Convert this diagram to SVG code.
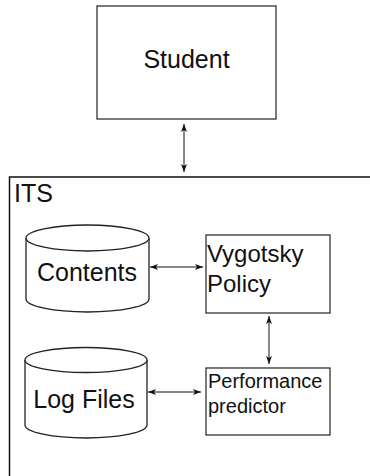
<svg xmlns="http://www.w3.org/2000/svg" width="370" height="476" viewBox="0 0 370 476">
<style>
.box{fill:#fff;stroke:#222;stroke-width:1.2}
.cyl{fill:#fff;stroke:#222;stroke-width:1.3}
.t{font-family:"Liberation Sans",Arial,sans-serif;fill:#111}
.c{stroke:#111;stroke-width:1;fill:none}
</style>
<defs>
<marker id="ah" viewBox="0 0 8 6" refX="8" refY="3" markerWidth="8" markerHeight="6" orient="auto-start-reverse" markerUnits="userSpaceOnUse">
<path d="M0,0 L8,3 L0,6 L2,3 z" fill="#111"/>
</marker>
</defs>
<rect width="370" height="476" fill="#fff"/>
<g id="student">
<rect class="box" x="97" y="6" width="179" height="113"/>
<text class="t" x="186.5" y="68" font-size="25" text-anchor="middle">Student</text>
</g>
<g id="its">
<path d="M9.5,476 V177 H370" fill="none" stroke="#111" stroke-width="1.5"/>
<text class="t" x="14" y="202" font-size="25">ITS</text>
</g>
<g id="contents">
<path class="cyl" d="M26,238 V299 A61.5,13 0 0 0 149,299 V238"/>
<ellipse class="cyl" cx="87.5" cy="238" rx="61.5" ry="13"/>
<text class="t" x="87" y="281" font-size="25" text-anchor="middle">Contents</text>
</g>
<g id="logfiles">
<path class="cyl" d="M25,360 V425 A61,13 0 0 0 147,425 V360"/>
<ellipse class="cyl" cx="86" cy="360" rx="61" ry="12.5"/>
<text class="t" x="84" y="408" font-size="25" text-anchor="middle">Log Files</text>
</g>
<g id="vygotsky">
<rect class="box" x="206" y="235" width="124" height="78"/>
<text class="t" x="207" y="262" font-size="24">Vygotsky</text>
<text class="t" x="207" y="292" font-size="24">Policy</text>
</g>
<g id="performance">
<rect class="box" x="206" y="368" width="124" height="67"/>
<text class="t" x="208" y="388" font-size="20">Performance</text>
<text class="t" x="208" y="413" font-size="20">predictor</text>
</g>
<g id="connectors">
<line class="c" x1="184" y1="124" x2="184" y2="172" marker-start="url(#ah)" marker-end="url(#ah)"/>
<line class="c" x1="150" y1="267" x2="203" y2="267" marker-start="url(#ah)" marker-end="url(#ah)"/>
<line class="c" x1="269" y1="316" x2="269" y2="364" marker-start="url(#ah)" marker-end="url(#ah)"/>
<line class="c" x1="148" y1="392" x2="201" y2="392" marker-start="url(#ah)" marker-end="url(#ah)"/>
</g>
</svg>
